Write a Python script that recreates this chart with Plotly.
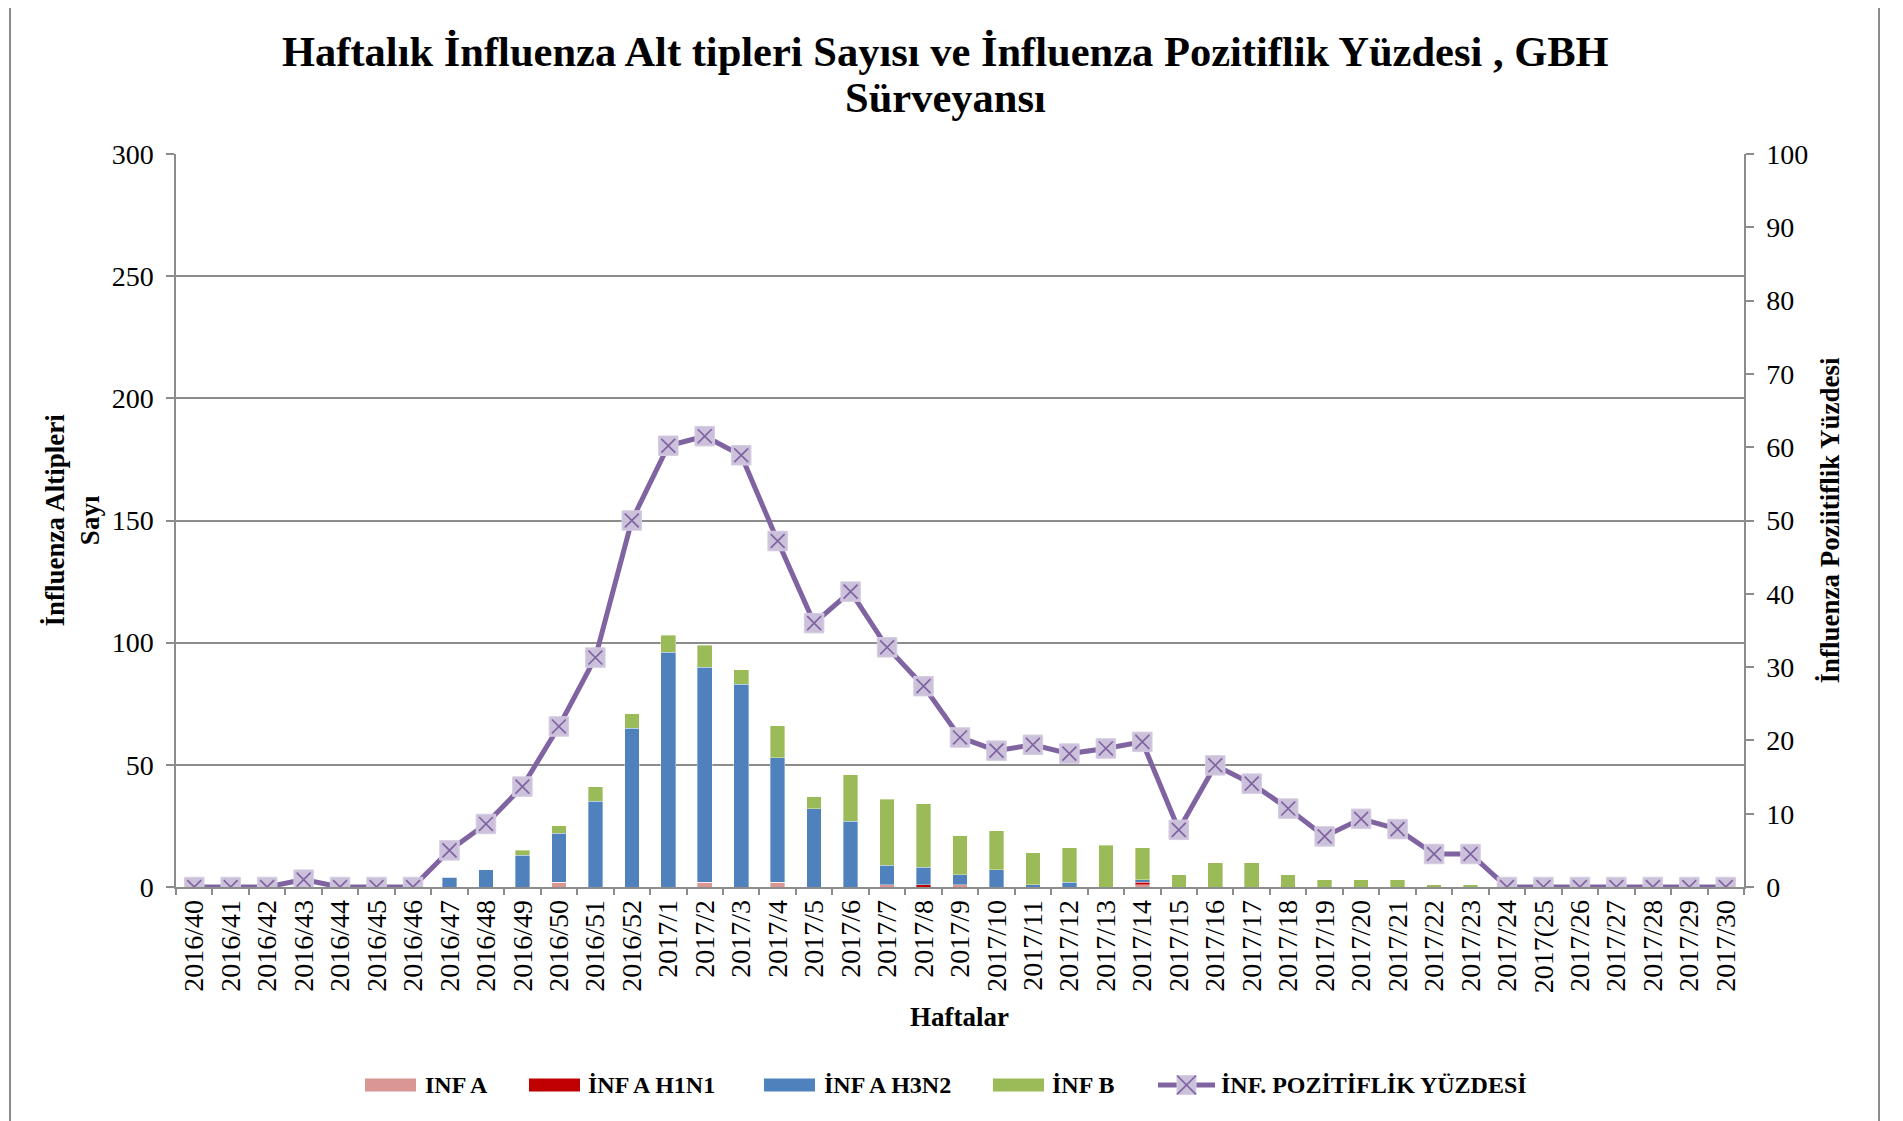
import plotly.graph_objects as go

weeks = [f"2016/{w}" for w in range(40, 53)] + [f"2017/{w}" for w in range(1, 31)]
tick_labels = [("2017(25" if w == "2017/25" else w) for w in weeks]

inf_a = [0,0,0,0,0,0,0,0,0,0,2,0,0,
         0,2,0,2,0,0,1,0,1,0,0,0,0,1,0,0,0,0,0,0,0,0,0,0,0,0,0,0,0,0]
inf_h1n1 = [0,0,0,0,0,0,0,0,0,0,0,0,0,
            0,0,0,0,0,0,0,1,0,0,0,0,0,1,0,0,0,0,0,0,0,0,0,0,0,0,0,0,0,0]
inf_h3n2 = [0,0,0,0,0,0,0,4,7,13,20,35,65,
            96,88,83,51,32,27,8,7,4,7,1,2,0,1,0,0,0,0,0,0,0,0,0,0,0,0,0,0,0,0]
inf_b = [0,0,0,0,0,0,0,0,0,2,3,6,6,
         7,9,6,13,5,19,27,26,16,16,13,14,17,13,5,10,10,5,3,3,3,1,1,0,0,0,0,0,0,0]
positivity = [0,0,0,1.0,0,0,0,5.0,8.6,13.7,21.9,31.3,50.0,
              60.2,61.5,58.9,47.2,36.0,40.3,32.7,27.4,20.4,18.6,19.4,18.2,18.9,19.8,
              7.8,16.6,14.1,10.7,6.9,9.3,7.9,4.5,4.5,0,0,0,0,0,0,0]

series_names = ["INF A", "İNF A H1N1", "İNF A H3N2", "İNF B"]
series_colors = ["#D99694", "#C00000", "#4F81BD", "#9BBB59"]
line_name = "İNF. POZİTİFLİK YÜZDESİ"
LINE_COL = "#8064A2"
MARK_FILL = "#CCC1DA"

SERIF = "Liberation Serif"
GRID = "#8c8c8c"

# page-pixel -> paper helpers (plot area spans x 176..1744, y 153.5..887.3 on the page)
PX0, PX1, PY0, PY1 = 176.0, 1744.0, 153.5, 887.3
def px(x):
    return (x - PX0) / (PX1 - PX0)
def py(y):
    return (PY1 - y) / (PY1 - PY0)

fig = go.Figure()
for name, vals, col in zip(series_names, [inf_a, inf_h1n1, inf_h3n2, inf_b], series_colors):
    fig.add_trace(go.Bar(x=weeks, y=vals, name=name,
                         marker=dict(color=col, line=dict(width=0.6, color="rgba(255,255,255,0.6)")),
                         yaxis="y"))
fig.add_trace(go.Scatter(x=weeks, y=positivity, name=line_name,
                         mode="lines+markers", yaxis="y2",
                         line=dict(color=LINE_COL, width=5),
                         marker=dict(symbol="square", size=19.5, color=MARK_FILL,
                                     line=dict(color="#D6CDE3", width=1))))
fig.add_trace(go.Scatter(x=weeks, y=positivity, name=line_name, showlegend=False,
                         mode="markers", yaxis="y2",
                         marker=dict(symbol="x-thin", size=13.9,
                                     line=dict(color=LINE_COL, width=1.7))))

W, H = 1895, 1113
fig.update_layout(
    width=W, height=H,
    margin=dict(l=168, r=159, t=146, b=234, autoexpand=False),
    paper_bgcolor="white", plot_bgcolor="white",
    barmode="stack", bargap=0.6,
    font=dict(family=SERIF, size=28, color="black"),
    showlegend=False,
    xaxis=dict(type="category", tickmode="array", tickvals=weeks, ticktext=tick_labels,
               range=[-0.5, len(weeks) - 0.5],
               tickangle=-90, tickson="boundaries", ticks="outside", ticklen=6, tickcolor=GRID,
               tickwidth=1.5, showline=True, linecolor=GRID, linewidth=1.5, showgrid=False,
               ticklabelstandoff=0,
               tickfont=dict(family=SERIF, size=28, color="black")),
    yaxis=dict(range=[0, 300], dtick=50, showgrid=True, gridcolor=GRID, gridwidth=1.5,
               showline=True, linecolor=GRID, linewidth=1.5, ticks="outside", ticklen=8,
               tickcolor=GRID, tickwidth=1.5, zeroline=False, ticklabelstandoff=7,
               tickfont=dict(family=SERIF, size=28, color="black")),
    yaxis2=dict(range=[0, 100], dtick=10, overlaying="y", side="right", showgrid=False,
                showline=True, linecolor=GRID, linewidth=1.5, ticks="outside", ticklen=8,
                tickcolor=GRID, tickwidth=1.5, zeroline=False, ticklabelstandoff=7,
                tickfont=dict(family=SERIF, size=28, color="black")),
)

# title (two lines)
fig.add_annotation(text="<b>Haftalık İnfluenza Alt tipleri Sayısı ve İnfluenza Pozitiflik Yüzdesi , GBH</b>",
                   xref="paper", yref="paper", x=px(945), y=py(51), showarrow=False,
                   xanchor="center", yanchor="middle", font=dict(family=SERIF, size=42.5, color="black"))
fig.add_annotation(text="<b>Sürveyansı</b>",
                   xref="paper", yref="paper", x=px(945), y=py(97), showarrow=False,
                   xanchor="center", yanchor="middle", font=dict(family=SERIF, size=42.5, color="black"))

# axis titles
fig.add_annotation(text="<b>İnfluenza Altipleri<br>Sayı</b>", xref="paper", yref="paper",
                   x=px(72), y=0.5, textangle=-90, showarrow=False,
                   xanchor="center", yanchor="middle",
                   font=dict(family=SERIF, size=27, color="black"))
fig.add_annotation(text="<b>İnfluenza Poziitiflik Yüzdesi</b>", xref="paper", yref="paper",
                   x=px(1829), y=0.5, textangle=-90, showarrow=False,
                   xanchor="center", yanchor="middle",
                   font=dict(family=SERIF, size=27, color="black"))
fig.add_annotation(text="<b>Haftalar</b>", xref="paper", yref="paper",
                   x=px(959), y=py(1017), showarrow=False,
                   xanchor="center", yanchor="middle",
                   font=dict(family=SERIF, size=27, color="black"))

# custom legend
LEG_Y = 1085.5
swatch_x = [365, 529, 764, 993]
text_x = [423, 586, 822, 1050]
for sx, tx, name, col in zip(swatch_x, text_x, series_names, series_colors):
    fig.add_shape(type="rect", xref="paper", yref="paper",
                  x0=px(sx), x1=px(sx + 51), y0=py(LEG_Y + 6.5), y1=py(LEG_Y - 6.5),
                  fillcolor=col, line=dict(width=0))
    fig.add_annotation(text=f"<b>{name}</b>", xref="paper", yref="paper",
                       x=px(tx), y=py(LEG_Y), xanchor="left", yanchor="middle", showarrow=False,
                       font=dict(family=SERIF, size=24, color="black"))
fig.add_shape(type="line", xref="paper", yref="paper",
              x0=px(1158), x1=px(1215), y0=py(LEG_Y), y1=py(LEG_Y),
              line=dict(color=LINE_COL, width=5))
mc, ms = 1186.5, 9.5
fig.add_shape(type="rect", xref="paper", yref="paper",
              x0=px(mc - ms), x1=px(mc + ms), y0=py(LEG_Y + ms), y1=py(LEG_Y - ms),
              fillcolor=MARK_FILL, line=dict(width=1, color="#D6CDE3"))
for a, b in [(-1, 1), (1, -1)]:
    fig.add_shape(type="line", xref="paper", yref="paper",
                  x0=px(mc - ms), x1=px(mc + ms), y0=py(LEG_Y + a * ms), y1=py(LEG_Y + b * ms),
                  line=dict(color=LINE_COL, width=1.7))
fig.add_annotation(text=f"<b>{line_name}</b>", xref="paper", yref="paper",
                   x=px(1219), y=py(LEG_Y), xanchor="left", yanchor="middle", showarrow=False,
                   font=dict(family=SERIF, size=24, color="black"))

# outer chart border
fig.add_shape(type="rect", xref="paper", yref="paper",
              x0=px(10), x1=px(1879), y0=py(1140), y1=py(3),
              line=dict(color="#8c8c8c", width=2), fillcolor="rgba(0,0,0,0)", layer="below")

fig.write_html("out.html")
